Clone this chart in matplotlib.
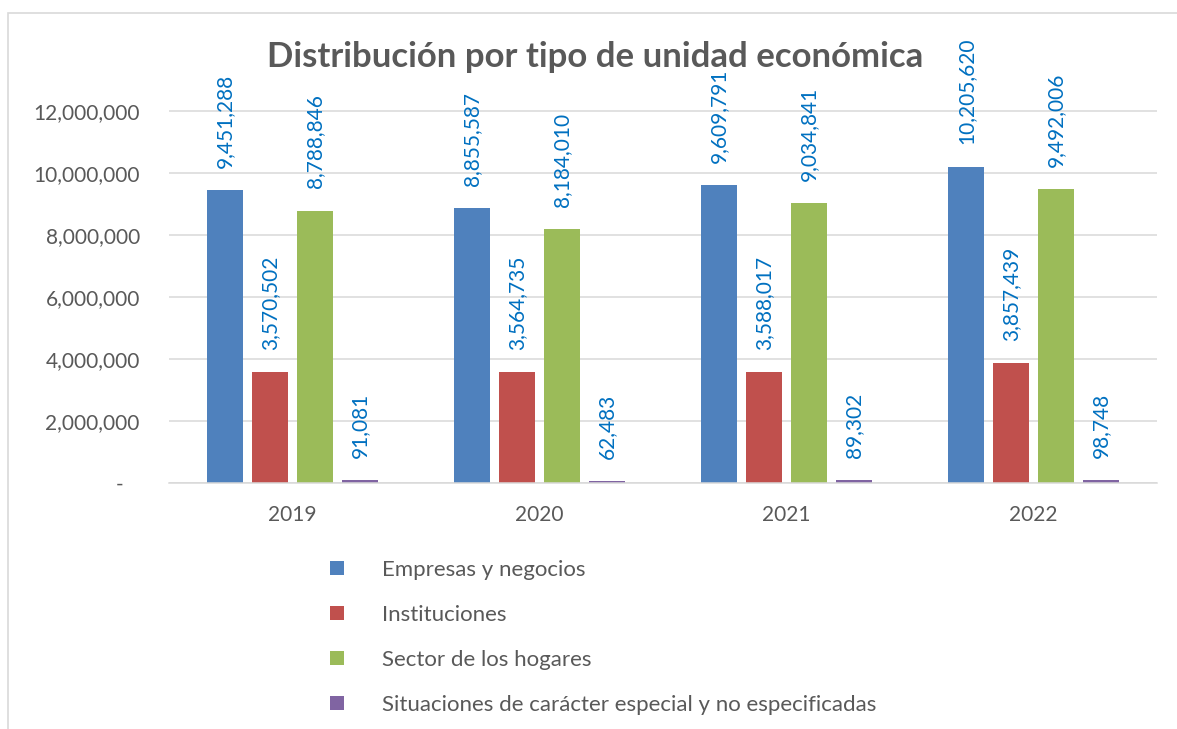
import matplotlib
matplotlib.use("Agg")
import matplotlib.pyplot as plt
import numpy as np
from matplotlib.patches import Patch, Rectangle
from matplotlib.ticker import FuncFormatter

plt.rcParams["font.family"] = ["Lato", "DejaVu Sans"]

years = ["2019", "2020", "2021", "2022"]
series = ["Empresas y negocios", "Instituciones", "Sector de los hogares",
          "Situaciones de carácter especial y no especificadas"]
empresas = [9451288, 8855587, 9609791, 10205620]
instituciones = [3570502, 3564735, 3588017, 3857439]
hogares = [8788846, 8184010, 9034841, 9492006]
especiales = [91081, 62483, 89302, 98748]
colors = ["#4F81BD", "#C0504D", "#9BBB59", "#8064A2"]

gray = "#595959"
grid = "#D9D9D9"
label_blue = "#0070C0"

fig = plt.figure(figsize=(11.77, 7.29), dpi=100)
ax = fig.add_axes([169 / 1177, 246 / 729, 988 / 1177, 434 / 729])

x = np.arange(len(years))
width = 0.144
pitch = 0.182
values = [empresas, instituciones, hogares, especiales]
for i, (vals, col) in enumerate(zip(values, colors)):
    pos = x + (i - 1.5) * pitch
    ax.bar(pos, vals, width, color=col, zorder=2)
    for px, v in zip(pos, vals):
        ax.annotate(f"{v:,}", (px, v), xytext=(0, 16), textcoords="offset points",
                    rotation=90, ha="center", va="bottom", fontsize=15,
                    color=label_blue, annotation_clip=False)

ax.set_xlim(-0.5, 3.5)
ax.set_ylim(0, 14000000)
ax.set_yticks([0, 2000000, 4000000, 6000000, 8000000, 10000000, 12000000])
ax.yaxis.set_major_formatter(FuncFormatter(lambda v, p: "-   " if v == 0 else f"{int(v):,}"))
ax.set_xticks(x)
ax.set_xticklabels(years)
ax.tick_params(axis="y", length=0, pad=21, labelsize=15, labelcolor=gray)
ax.tick_params(axis="x", length=0, pad=16, labelsize=15, labelcolor=gray)
ax.grid(axis="y", color=grid, linewidth=1.1, zorder=0)
ax.set_axisbelow(True)
for s in ["top", "right", "left"]:
    ax.spines[s].set_visible(False)
ax.spines["bottom"].set_color(grid)
ax.spines["bottom"].set_linewidth(1.1)

fig.text(0.506, 1 - 57 / 729, "Distribución por tipo de unidad económica",
         ha="center", va="center", fontsize=25, fontweight="bold", color=gray)

handles = [Patch(facecolor=c) for c in colors]
fig.legend(handles, series, loc="upper left", bbox_to_anchor=(330 / 1177, 1 - 560 / 729),
           frameon=False, fontsize=16, labelcolor=gray, handlelength=0.63,
           handleheight=0.63, handletextpad=1.71, labelspacing=1.12,
           borderpad=0, borderaxespad=0)

fig.add_artist(Rectangle((8 / 1177, -0.1), 1.2, 1.1 - 13 / 729,
                         transform=fig.transFigure, fill=False,
                         edgecolor=grid, linewidth=1.2))

fig.savefig("out.png", dpi=100)
